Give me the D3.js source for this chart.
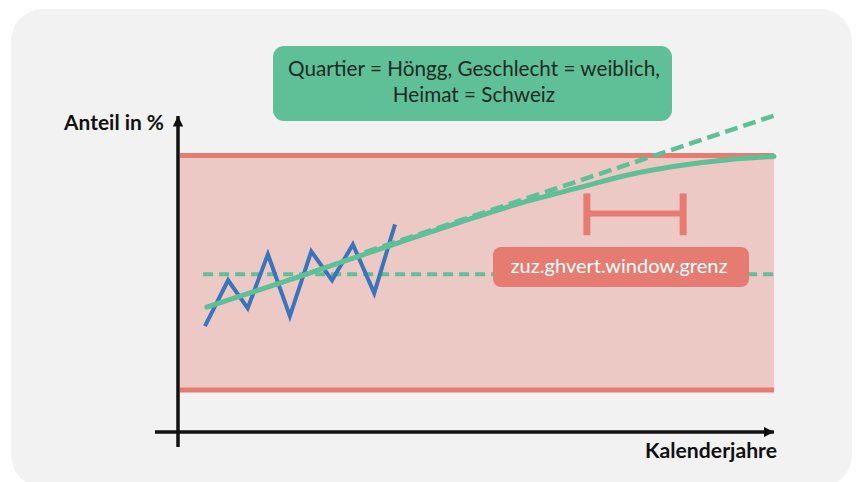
<!DOCTYPE html>
<html>
<head>
<meta charset="utf-8">
<script src="https://cdn.jsdelivr.net/npm/d3@7"></script>
<style>
  body { margin: 0; background: #ffffff; }
  text { font-family: Lato, "Liberation Sans", sans-serif; }
</style>
</head>
<body>
<div id="viz"></div>
<script>
// values in chart units: x = time (0..100), y = share (0..100 = band limits)
var bandLimits = [0, 100];
var obsX = [4.2, 8.1, 11.4, 14.8, 18.5, 22.1, 25.6, 29.1, 32.7, 36.2];
var obsY = [27.2, 46.8, 34.9, 57.9, 31.5, 59.1, 46.8, 62.1, 41.3, 70.6];
var fitX = [4.5, 20.2, 37.0, 47.1, 57.2, 67.3, 75.8, 84.2, 92.6, 100];
var fitY = [35.3, 48.5, 63.0, 71.5, 79.6, 86.4, 91.9, 95.7, 98.3, 99.6];
var trendX = [31.1, 100];
var trendY = [58.7, 117.0];
var levelX = [3.9, 100];
var levelY = [49.4, 49.4];
var windowX = [68.5, 84.7];
var windowY = 75.3;
var windowTick = [66.0, 83.8];
var titleLines = ["Quartier = Höngg, Geschlecht = weiblich,", "Heimat = Schweiz"];
var windowLabel = "zuz.ghvert.window.grenz";
var yLabel = "Anteil in %";
var xLabel = "Kalenderjahre";

var W = 857, H = 482;
var red = "#e57b71", pink = "#edc9c5", green = "#5fbf96", blue = "#3a75bb", ink = "#111";

var x = d3.scaleLinear().domain([0, 100]).range([180, 774]);
var y = d3.scaleLinear().domain([0, 100]).range([390, 155.5]);

var svg = d3.select("#viz").append("svg")
    .attr("width", W).attr("height", H);

// rounded grey panel
svg.append("rect")
    .attr("x", 11).attr("y", 9).attr("width", 841).attr("height", 478)
    .attr("rx", 32).attr("ry", 32)
    .style("fill", "#f2f2f2");

// band between limits
svg.append("rect")
    .attr("x", x(0)).attr("width", x(100) - x(0))
    .attr("y", y(bandLimits[1])).attr("height", y(bandLimits[0]) - y(bandLimits[1]))
    .style("fill", pink);
bandLimits.forEach(function(b) {
  svg.append("line")
      .attr("x1", x(0)).attr("x2", x(100))
      .attr("y1", y(b)).attr("y2", y(b))
      .style("stroke", red).style("stroke-width", 5);
});

// fit text to a width
function fitText(sel, target) {
  var w = sel.node().getComputedTextLength();
  var fs = parseFloat(sel.attr("font-size"));
  sel.attr("font-size", fs * target / w);
}

// title box
svg.append("rect")
    .attr("x", 273).attr("y", 46).attr("width", 399).attr("height", 75)
    .attr("rx", 11).style("fill", green);
titleLines.forEach(function(t, i) {
  var tx = svg.append("text")
      .attr("x", 474).attr("y", 76 + i * 26)
      .attr("text-anchor", "middle")
      .attr("font-size", 18)
      .style("fill", "#1e2a24")
      .text(t);
  if (i == 0) fitText(tx, 372);
  else tx.attr("font-size", svg.select("text").attr("font-size"));
});

// dashed level line
var line = d3.line().x(function(d) { return x(d[0]); }).y(function(d) { return y(d[1]); });
svg.append("path")
    .datum(d3.zip(levelX, levelY))
    .attr("d", line)
    .style("fill", "none").style("stroke", green)
    .style("stroke-width", 4).style("stroke-dasharray", "10,6");

// observed series
svg.append("path")
    .datum(d3.zip(obsX, obsY))
    .attr("d", line)
    .style("fill", "none").style("stroke", blue)
    .style("stroke-width", 4).style("stroke-linejoin", "miter");

// trend (dashed) and fitted curve
svg.append("path")
    .datum(d3.zip(trendX, trendY))
    .attr("d", line)
    .style("fill", "none").style("stroke", green)
    .style("stroke-width", 4.5).style("stroke-dasharray", "13,6");
svg.append("path")
    .datum(d3.zip(fitX, fitY))
    .attr("d", line.curve(d3.curveMonotoneX))
    .style("fill", "none").style("stroke", green)
    .style("stroke-width", 5).style("stroke-linecap", "round");

// window bracket
svg.append("line")
    .attr("x1", x(windowX[0])).attr("x2", x(windowX[1]))
    .attr("y1", y(windowY)).attr("y2", y(windowY))
    .style("stroke", red).style("stroke-width", 6);
windowX.forEach(function(v) {
  svg.append("line")
      .attr("x1", x(v)).attr("x2", x(v))
      .attr("y1", y(windowTick[0])).attr("y2", y(windowTick[1]))
      .style("stroke", red).style("stroke-width", 7);
});

// window label
svg.append("rect")
    .attr("x", 493).attr("y", 247).attr("width", 256).attr("height", 40)
    .attr("rx", 8).style("fill", red);
var wl = svg.append("text")
    .attr("x", 619).attr("y", 273)
    .attr("text-anchor", "middle")
    .attr("font-size", 18)
    .style("fill", "#fff")
    .text(windowLabel);
fitText(wl, 217);

// axes with arrows
var defs = svg.append("defs");
defs.append("marker")
    .attr("id", "arrow")
    .attr("viewBox", "0 0 10 10")
    .attr("refX", 10).attr("refY", 5)
    .attr("markerWidth", 3).attr("markerHeight", 3)
    .attr("markerUnits", "strokeWidth")
    .attr("orient", "auto")
  .append("path")
    .attr("d", "M0,0 L10,5 L0,10 Z")
    .style("fill", ink);

svg.append("line")
    .attr("x1", 155).attr("x2", 774)
    .attr("y1", 432).attr("y2", 432)
    .style("stroke", ink).style("stroke-width", 3.5)
    .attr("marker-end", "url(#arrow)");
svg.append("line")
    .attr("x1", 178).attr("x2", 178)
    .attr("y1", 447).attr("y2", 116)
    .style("stroke", ink).style("stroke-width", 3.5)
    .attr("marker-end", "url(#arrow)");

var yl = svg.append("text")
    .attr("x", 164).attr("y", 130)
    .attr("text-anchor", "end")
    .attr("font-size", 17).attr("font-weight", "bold")
    .style("fill", ink)
    .text(yLabel);
fitText(yl, 100);
var xl = svg.append("text")
    .attr("x", 777).attr("y", 458)
    .attr("text-anchor", "end")
    .attr("font-size", 17).attr("font-weight", "bold")
    .style("fill", ink)
    .text(xLabel);
fitText(xl, 132);
</script>
</body>
</html>
